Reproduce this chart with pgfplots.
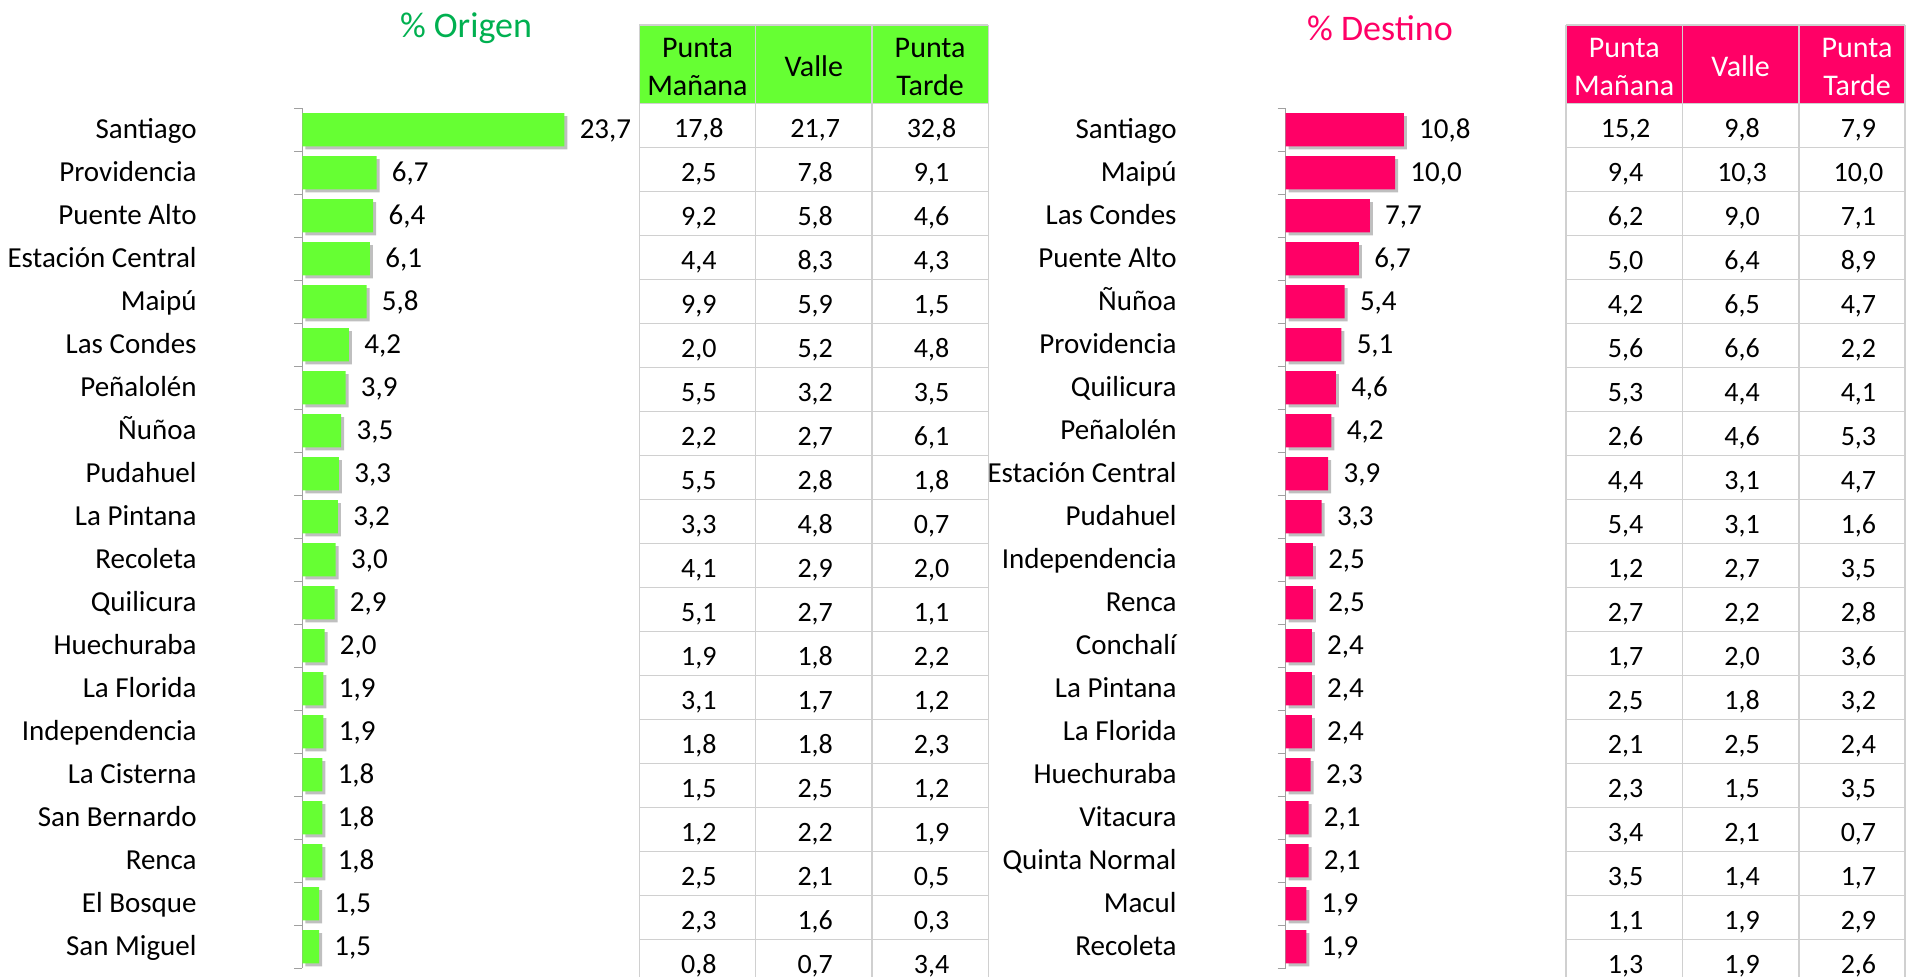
\documentclass[border=0pt]{standalone}
\usepackage{fontspec}
\setmainfont{Carlito}
\usepackage{pgfplots}
\usepackage{pgfplotstable}
\pgfplotsset{compat=1.18}
\usetikzlibrary{shadows}
\definecolor{ogreen}{HTML}{66FF33}
\definecolor{tgreen}{HTML}{00B050}
\definecolor{dpink}{HTML}{FF0066}
\definecolor{axgray}{HTML}{A0A0A0}
\definecolor{grgray}{HTML}{D0D0D0}

\pgfplotstableread[col sep=comma]{
name,v,pm,va,pt
Santiago,23.7,17.8,21.7,32.8
Providencia,6.7,2.5,7.8,9.1
Puente Alto,6.4,9.2,5.8,4.6
Estación Central,6.1,4.4,8.3,4.3
Maipú,5.8,9.9,5.9,1.5
Las Condes,4.2,2.0,5.2,4.8
Peñalolén,3.9,5.5,3.2,3.5
Ñuñoa,3.5,2.2,2.7,6.1
Pudahuel,3.3,5.5,2.8,1.8
La Pintana,3.2,3.3,4.8,0.7
Recoleta,3.0,4.1,2.9,2.0
Quilicura,2.9,5.1,2.7,1.1
Huechuraba,2.0,1.9,1.8,2.2
La Florida,1.9,3.1,1.7,1.2
Independencia,1.9,1.8,1.8,2.3
La Cisterna,1.8,1.5,2.5,1.2
San Bernardo,1.8,1.2,2.2,1.9
Renca,1.8,2.5,2.1,0.5
El Bosque,1.5,2.3,1.6,0.3
San Miguel,1.5,0.8,0.7,3.4
}\origdata

\pgfplotstableread[col sep=comma]{
name,v,pm,va,pt
Santiago,10.8,15.2,9.8,7.9
Maipú,10.0,9.4,10.3,10.0
Las Condes,7.7,6.2,9.0,7.1
Puente Alto,6.7,5.0,6.4,8.9
Ñuñoa,5.4,4.2,6.5,4.7
Providencia,5.1,5.6,6.6,2.2
Quilicura,4.6,5.3,4.4,4.1
Peñalolén,4.2,2.6,4.6,5.3
Estación Central,3.9,4.4,3.1,4.7
Pudahuel,3.3,5.4,3.1,1.6
Independencia,2.5,1.2,2.7,3.5
Renca,2.5,2.7,2.2,2.8
Conchalí,2.4,1.7,2.0,3.6
La Pintana,2.4,2.5,1.8,3.2
La Florida,2.4,2.1,2.5,2.4
Huechuraba,2.3,2.3,1.5,3.5
Vitacura,2.1,3.4,2.1,0.7
Quinta Normal,2.1,3.5,1.4,1.7
Macul,1.9,1.1,1.9,2.9
Recoleta,1.9,1.3,1.9,2.6
}\destdata

\tikzset{hdr/.style={anchor=base, font=\fontsize{15}{18}\selectfont, inner sep=0pt}}

\pgfplotsset{
  numfmt/.style={/pgf/number format/use comma, /pgf/number format/fixed,
    /pgf/number format/fixed zerofill, /pgf/number format/precision=1},
  barchart/.style={scale only axis, height=430pt, ymin=-0.5, ymax=19.5, y dir=reverse,
    xmin=0, xbar, bar width=16.65pt,
    axis lines*=left, x axis line style={draw=none},
    y axis line style={draw=axgray, line width=0.8pt, -},
    xtick=\empty, ytick={0,...,19}, major tick length=0pt,
    yticklabel style={anchor=base east, inner sep=0pt, yshift=-4.25pt,
      font=\fontsize{14.5}{17}\selectfont, text=black},
    extra y ticks={-0.5,0.5,...,19.5}, extra y tick labels={},
    extra y tick style={major tick length=4pt, tick align=outside,
      tick style={draw=axgray, line width=0.8pt}},
    nodes near coords={\pgfmathprintnumber[assume math mode=true]{\pgfplotspointmeta}},
    nodes near coords align=horizontal,
    every node near coord/.append style={inner sep=0pt, xshift=7.5pt, text height=10pt,
      text depth=1.5pt, font=\fontsize{14.5}{17}\selectfont, text=black},
    numfmt, clip=false},
  tablechart/.style={scale only axis, height=475.85pt, ymin=-1.78, ymax=19.85, y dir=reverse,
    xmin=0, axis line style={draw=none}, major tick length=0pt,
    xticklabels={}, yticklabels={}, ytick={-1.78,0,1,2,...,19},
    grid=major, major grid style={draw=grgray, line width=0.7pt},
    axis on top, clip=false, point meta=explicit,
    nodes near coords={\makebox[0pt]{\pgfmathprintnumber[assume math mode=true]{\pgfplotspointmeta}}},
    nodes near coords align=horizontal,
    every node near coord/.append style={inner sep=0pt, text height=12.4pt, text depth=0pt,
      font=\fontsize{14}{17}\selectfont, text=black},
    numfmt},
}

\begin{document}
\begin{tikzpicture}
\useasboundingbox (0,0) rectangle (953.5pt,-488.5pt);

\node[font=\fontsize{18}{22}\selectfont, text=tgreen] at (233pt,-14pt) {\% Origen};
\node[font=\fontsize{18}{22}\selectfont, text=dpink] at (690pt,-14pt) {\% Destino};

% Origen bars
\begin{axis}[barchart, at={(151.25pt,-54.15pt)}, anchor=north west,
  width=165.75pt, xmax=30,
  yticklabels from table={\origdata}{name},
  yticklabel style={xshift=-52.75pt}]
\addplot[fill=ogreen, draw=none,
  drop shadow={shadow xshift=1.5pt, shadow yshift=-1.5pt, fill=black, opacity=0.25}]
  table[x=v, y expr=\coordindex] {\origdata};
\end{axis}

% Origen table
\begin{axis}[tablechart, at={(319.65pt,-12.5pt)}, anchor=north west,
  width=174.5pt, xmax=3, xtick={0,1,2,3}]
\fill[ogreen] (axis cs:0,-1.78) rectangle (axis cs:3,0);
\node[hdr] at (axis cs:0.5,-1.046) {Punta};
\node[hdr] at (axis cs:0.5,-0.189) {Mañana};
\node[hdr] at (axis cs:1.5,-0.605) {Valle};
\node[hdr] at (axis cs:2.5,-1.046) {Punta};
\node[hdr] at (axis cs:2.5,-0.189) {Tarde};
\addplot[draw=none, mark=none] table[x expr=0.5, y expr=\coordindex+0.5, meta=pm] {\origdata};
\addplot[draw=none, mark=none] table[x expr=1.5, y expr=\coordindex+0.5, meta=va] {\origdata};
\addplot[draw=none, mark=none] table[x expr=2.5, y expr=\coordindex+0.5, meta=pt] {\origdata};
\end{axis}

% Destino bars
\begin{axis}[barchart, at={(642.75pt,-54.15pt)}, anchor=north west,
  width=109.5pt, xmax=20,
  yticklabels from table={\destdata}{name},
  yticklabel style={xshift=-54.25pt}]
\addplot[fill=dpink, draw=none,
  drop shadow={shadow xshift=1.5pt, shadow yshift=-1.5pt, fill=black, opacity=0.25}]
  table[x=v, y expr=\coordindex] {\destdata};
\end{axis}

% Destino table
\begin{axis}[tablechart, at={(783pt,-12.5pt)}, anchor=north west,
  width=169.5pt, xmax=2.912, xtick={0,1,2,2.912}]
\fill[dpink] (axis cs:0,-1.78) rectangle (axis cs:2.912,0);
\node[hdr, text=white] at (axis cs:0.5,-1.046) {Punta};
\node[hdr, text=white] at (axis cs:0.5,-0.189) {Mañana};
\node[hdr, text=white] at (axis cs:1.5,-0.605) {Valle};
\node[hdr, text=white] at (axis cs:2.5,-1.046) {Punta};
\node[hdr, text=white] at (axis cs:2.5,-0.189) {Tarde};
\addplot[draw=none, mark=none] table[x expr=0.5, y expr=\coordindex+0.5, meta=pm] {\destdata};
\addplot[draw=none, mark=none] table[x expr=1.5, y expr=\coordindex+0.5, meta=va] {\destdata};
\addplot[draw=none, mark=none] table[x expr=2.5, y expr=\coordindex+0.5, meta=pt] {\destdata};
\end{axis}
\end{tikzpicture}
\end{document}
